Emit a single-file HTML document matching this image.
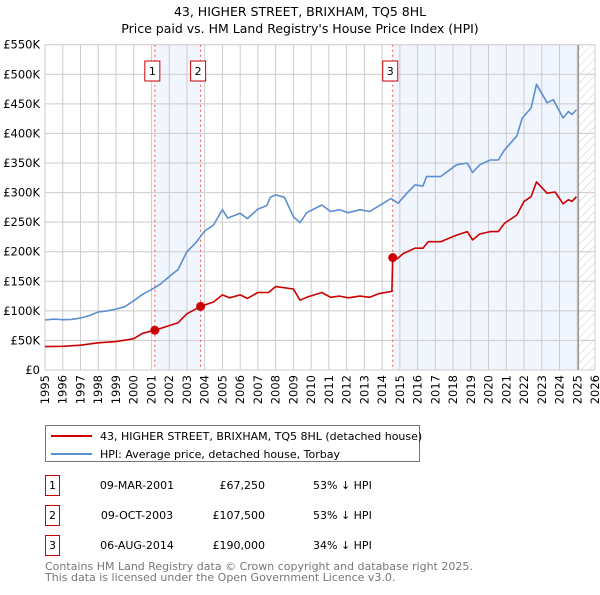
<!DOCTYPE html>
<html><head><meta charset="utf-8"><style>
body{margin:0;background:#fff;font-family:"Liberation Sans","DejaVu Sans",sans-serif;}
svg text{font-family:"DejaVu Sans","Liberation Sans",sans-serif;}
</style></head><body>
<svg id="chart" width="600" height="590" viewBox="0 0 600 590">
<defs><pattern id="hatch" width="6" height="6" patternUnits="userSpaceOnUse" patternTransform="rotate(45)"><line x1="0" y1="0" x2="0" y2="6" stroke="#ccc" stroke-width="1"/></pattern></defs>
<text x="300" y="16" text-anchor="middle" font-size="12.5" fill="#000">43, HIGHER STREET, BRIXHAM, TQ5 8HL</text>
<text x="300" y="33" text-anchor="middle" font-size="12.5" fill="#000">Price paid vs. HM Land Registry's House Price Index (HPI)</text>
<g id="plot"></g>
<g>
<rect x="45.5" y="425.5" width="374" height="36" fill="#fff" stroke="#777"/>
<line x1="51" y1="436" x2="92" y2="436" stroke="#cc0000" stroke-width="2"/>
<text x="100" y="440" font-size="11">43, HIGHER STREET, BRIXHAM, TQ5 8HL (detached house)</text>
<line x1="51" y1="454" x2="92" y2="454" stroke="#5b8fd0" stroke-width="2"/>
<text x="100" y="458" font-size="11">HPI: Average price, detached house, Torbay</text>
</g>
<g font-size="11">
<rect x="45.5" y="475.5" width="14" height="20" fill="#fff" stroke="#cc0000"/><text x="52.5" y="489" text-anchor="middle">1</text>
<text x="137" y="489" text-anchor="middle">09-MAR-2001</text><text x="265" y="489" text-anchor="end">£67,250</text><text x="313" y="489">53% ↓ HPI</text>
<rect x="45.5" y="505.5" width="14" height="20" fill="#fff" stroke="#cc0000"/><text x="52.5" y="519" text-anchor="middle">2</text>
<text x="137" y="519" text-anchor="middle">09-OCT-2003</text><text x="265" y="519" text-anchor="end">£107,500</text><text x="313" y="519">53% ↓ HPI</text>
<rect x="45.5" y="535.5" width="14" height="20" fill="#fff" stroke="#cc0000"/><text x="52.5" y="549" text-anchor="middle">3</text>
<text x="137" y="549" text-anchor="middle">06-AUG-2014</text><text x="265" y="549" text-anchor="end">£190,000</text><text x="313" y="549">34% ↓ HPI</text>
</g>
<text x="45" y="570" font-size="11" fill="#777">Contains HM Land Registry data © Crown copyright and database right 2025.</text>
<text x="45" y="581" font-size="11" fill="#777">This data is licensed under the Open Government Licence v3.0.</text>
</svg>
<script>
const yTicks=[0,50000,100000,150000,200000,250000,300000,350000,400000,450000,500000,550000];
const yTickLabels=["£0","£50K","£100K","£150K","£200K","£250K","£300K","£350K","£400K","£450K","£500K","£550K"];
const xYears=[1995,1996,1997,1998,1999,2000,2001,2002,2003,2004,2005,2006,2007,2008,2009,2010,2011,2012,2013,2014,2015,2016,2017,2018,2019,2020,2021,2022,2023,2024,2025,2026];
const hpiYears=[1995,1995.5,1996,1996.5,1997,1997.5,1998,1998.5,1999,1999.5,2000,2000.5,2001,2001.5,2002,2002.5,2003,2003.5,2004,2004.5,2005,2005.3,2006,2006.4,2007,2007.5,2007.7,2008,2008.5,2009,2009.37,2009.75,2010.6,2011.1,2011.6,2012.1,2012.75,2013.3,2013.8,2014.5,2014.9,2015.4,2015.85,2016.3,2016.5,2017.3,2018.2,2018.8,2019.1,2019.5,2020.1,2020.55,2020.9,2021.6,2021.9,2022.4,2022.7,2023.3,2023.65,2024.2,2024.5,2024.7,2024.95];
const hpiValues=[84600,86000,85000,85500,88000,92000,98000,100000,103000,107000,117000,128000,136000,145000,158000,170000,200000,215000,235000,245000,271000,257000,265000,256000,272000,278000,292000,296000,292000,259000,249000,266000,279000,268000,271000,266000,271000,268000,277000,290000,282000,299000,313000,311000,327000,327000,347000,350000,334000,347000,355000,355000,372000,396000,426000,443000,483000,452000,457000,426000,437000,432000,440000];
const ppYears=[1995,1996,1997,1998,1999,2000,2000.5,2001.19,2002,2002.5,2003,2003.77,2004.5,2005,2005.4,2006,2006.4,2007,2007.6,2008,2009,2009.37,2009.75,2010.6,2011.1,2011.6,2012.1,2012.75,2013.3,2013.8,2014.55,2014.6,2014.85,2015.2,2015.85,2016.3,2016.6,2017.3,2018.2,2018.8,2019.1,2019.5,2020.1,2020.55,2020.9,2021.6,2022,2022.4,2022.7,2023.3,2023.75,2024.2,2024.5,2024.7,2024.95];
const ppValues=[39500,40000,42000,46000,48000,53000,62000,67250,75000,80000,95000,107500,115000,127000,122000,127000,121000,131000,131000,141000,137000,118000,123000,131000,123000,125000,122000,125000,123000,129000,133000,190000,188000,197000,206000,206000,217000,217000,228000,234000,220000,230000,234000,234000,248000,262000,285000,293000,318000,299000,301000,281000,288000,285000,293000];
const saleYears=[2001.19,2003.77,2014.6];
const saleValues=[67250,107500,190000];
const saleLabels=["1","2","3"];

const L=45,R=595,T=44.7,B=370,Y0=1995,Y1=2026,VMAX=550000;
const xs=y=>L+(y-Y0)/(Y1-Y0)*(R-L);
const ys=v=>B-v/VMAX*(B-T);
const NS="http://www.w3.org/2000/svg";
const g=document.getElementById('plot');
function mk(tag,attrs,parent){const e=document.createElementNS(NS,tag);for(const k in attrs)e.setAttribute(k,attrs[k]);(parent||g).appendChild(e);return e;}
// shading
let e;
e=mk('rect',{x:xs(saleYears[0]),y:T,width:xs(saleYears[1])-xs(saleYears[0]),height:B-T,fill:'#eef3fc',opacity:0.8});


const hatchStart=2025.06;
e=mk('rect',{x:xs(saleYears[2]),y:T,width:xs(hatchStart)-xs(saleYears[2]),height:B-T,fill:'#eef3fc',opacity:0.8});


e=mk('rect',{x:xs(hatchStart),y:T,width:R-xs(hatchStart),height:B-T,fill:'url(#hatch)'});


// grid
yTicks.forEach((v,i)=>{
  e=mk('line',{x1:L,x2:R,y1:ys(v),y2:ys(v),stroke:'#ccc','stroke-width':1});
  
  
  e=mk('text',{x:L-5,y:ys(v)+4,'text-anchor':'end','font-size':11.5,fill:'#000'});
  e.textContent=yTickLabels[i];
  
  
});
xYears.forEach(y=>{
  e=mk('line',{x1:xs(y),x2:xs(y),y1:T,y2:B,stroke:'#ccc','stroke-width':1});
  
  
  e=mk('text',{x:0,y:0,'text-anchor':'end','font-size':11.5,fill:'#000',transform:`translate(${xs(y)+4},375) rotate(-90)`});
  e.textContent=y;
  
  
});
e=mk('line',{x1:xs(hatchStart),x2:xs(hatchStart),y1:T,y2:B,stroke:'#999','stroke-width':1.5});


// sale vlines
saleYears.forEach((y,i)=>{
  e=mk('line',{x1:xs(y),x2:xs(y),y1:T,y2:B,stroke:'#ee5555','stroke-width':1,'stroke-dasharray':'2,3'});
  
  
});
// lines
function path(xa,va){return xa.map((y,i)=>(i?'L':'M')+xs(y).toFixed(1)+','+ys(va[i]).toFixed(1)).join('');}
e=mk('path',{d:path(hpiYears,hpiValues),fill:'none',stroke:'#5b8fd0','stroke-width':1.6,'stroke-linejoin':'round'});


e=mk('path',{d:path(ppYears,ppValues),fill:'none',stroke:'#cc0000','stroke-width':1.6,'stroke-linejoin':'round'});


saleYears.forEach((y,i)=>{
  e=mk('circle',{cx:xs(y),cy:ys(saleValues[i]),r:4.5,fill:'#cc0000'});
  
  
  e=mk('rect',{x:xs(y)-10,y:61,width:15,height:20,fill:'#fff',stroke:'#cc0000','stroke-width':1});
  
  
  e=mk('text',{x:xs(y)-2.5,y:75,'text-anchor':'middle','font-size':11});
  e.textContent=saleLabels[i];
  
  
});
</script>
</body></html>
